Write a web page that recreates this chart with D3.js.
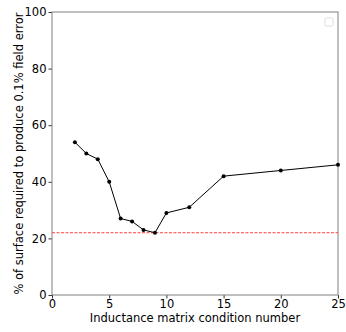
<!DOCTYPE html>
<html>
<head>
<meta charset="utf-8">
<script src="https://cdn.jsdelivr.net/npm/d3@7"></script>
<style>
  body { margin: 0; background: #fff; }
  text { font-family: "DejaVu Sans", sans-serif; }
</style>
</head>
<body>
<div id="chart"></div>
<script>
const condNumbers = [2, 3, 4, 5, 6, 7, 8, 9, 10, 12, 15, 20, 25];
const surfacePct = [54, 50, 48, 40, 27, 26, 23, 22, 29, 31, 42, 44, 46];
const thresholdPct = 22;
const xTicks = [0, 5, 10, 15, 20, 25];
const yTicks = [0, 20, 40, 60, 80, 100];

const W = 346, H = 332;
const margin = { top: 12, right: 8, bottom: 37, left: 52 };
const width = W - margin.left - margin.right;
const height = H - margin.top - margin.bottom;

const svg = d3.select("#chart").append("svg")
    .attr("width", W)
    .attr("height", H);

const g = svg.append("g")
    .attr("transform", `translate(${margin.left},${margin.top})`);

const x = d3.scaleLinear().domain([0, 25]).range([0, width]);
const y = d3.scaleLinear().domain([0, 100]).range([height, 0]);

// axes
const xAxis = g.append("g")
    .attr("transform", `translate(0,${height})`)
    .call(d3.axisBottom(x).tickValues(xTicks).tickSize(3.5).tickPadding(1));
const yAxis = g.append("g")
    .call(d3.axisLeft(y).tickValues(yTicks).tickSize(3.5).tickPadding(2));

[xAxis, yAxis].forEach(a => {
    a.selectAll("text").style("font-size", "11.5px").attr("fill", "#000");
    a.selectAll(".tick line").attr("stroke", "#000").attr("stroke-width", 0.8);
    a.select(".domain").remove();
});

// frame
g.append("rect")
    .attr("width", width)
    .attr("height", height)
    .attr("fill", "none")
    .attr("stroke", "#808080")
    .attr("stroke-width", 1);

// threshold
g.append("line")
    .attr("x1", 0).attr("x2", width)
    .attr("y1", y(thresholdPct)).attr("y2", y(thresholdPct))
    .attr("stroke", "#ff4040")
    .attr("stroke-width", 1)
    .attr("stroke-dasharray", "3,1.5");

const pts = condNumbers.map((c, i) => [c, surfacePct[i]]);

g.append("path")
    .datum(pts)
    .attr("fill", "none")
    .attr("stroke", "#000")
    .attr("stroke-width", 1)
    .attr("d", d3.line().x(d => x(d[0])).y(d => y(d[1])));

g.selectAll("circle.pt")
    .data(pts)
    .enter()
    .append("circle")
    .attr("class", "pt")
    .attr("cx", d => x(d[0]))
    .attr("cy", d => y(d[1]))
    .attr("r", 2)
    .attr("fill", "#000");

// empty legend box
g.append("rect")
    .attr("x", width - 13)
    .attr("y", 6)
    .attr("width", 8)
    .attr("height", 8)
    .attr("rx", 1.5)
    .attr("fill", "#fff")
    .attr("stroke", "#ddd")
    .attr("stroke-width", 1);

// labels
svg.append("text")
    .attr("x", margin.left + width / 2)
    .attr("y", H - 10)
    .attr("text-anchor", "middle")
    .style("font-size", "11.5px")
    .text("Inductance matrix condition number");

svg.append("text")
    .attr("transform", `translate(23,${margin.top + height / 2}) rotate(-90)`)
    .attr("text-anchor", "middle")
    .style("font-size", "11.5px")
    .text("% of surface required to produce 0.1% field error");
</script>
</body>
</html>
